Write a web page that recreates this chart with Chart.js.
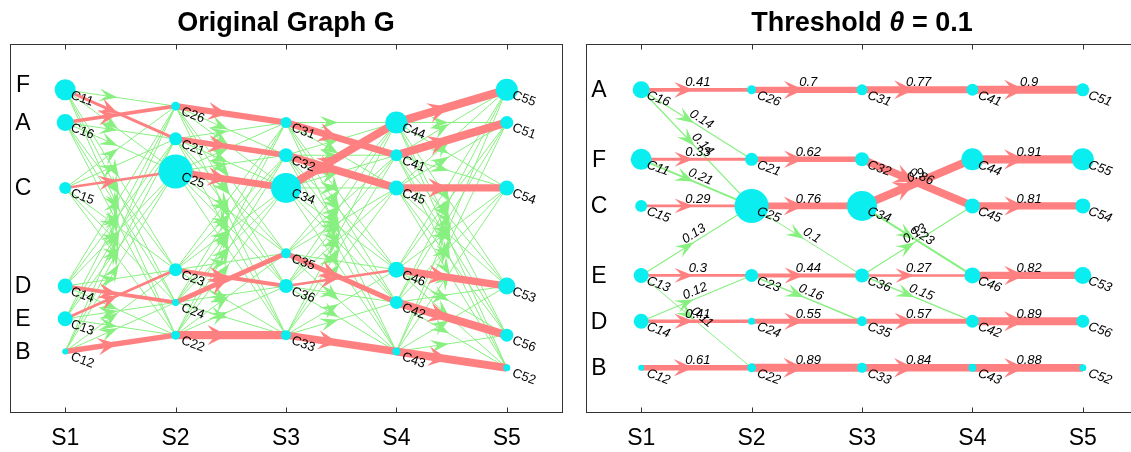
<!DOCTYPE html>
<html>
<head>
<meta charset="utf-8">
<script src="https://cdn.jsdelivr.net/npm/chart.js@4"></script>
<style>
  html, body { margin: 0; padding: 0; background: #fff; overflow: hidden; width: 1131px; height: 452px; }
  canvas { position: absolute; top: 0; }
  #chart-g { left: 0; }
  #chart-t { left: 576px; }
</style>
</head>
<body>
<canvas id="chart-g" width="580" height="452"></canvas>
<canvas id="chart-t" width="580" height="452"></canvas>
<script>
// stages on the x axis
const stages = ['S1', 'S2', 'S3', 'S4', 'S5'];

// row letters of the original graph (placed at the S1 node levels)
const subjects = ['F', 'A', 'C', 'D', 'E', 'B'];
const subjectLevel = [-0.3, 2, 6, 12, 14, 16];

// rows of the thresholded graph
const rowNames = ['A', 'F', 'C', 'E', 'D', 'B'];
const rowLevel = [0, 4.25, 7.1, 11.35, 14.15, 17];

// nodes: id, vertical level in G, row in the threshold graph, size
const nodeIds = ['C11', 'C12', 'C13', 'C14', 'C15', 'C16',
                 'C21', 'C22', 'C23', 'C24', 'C25', 'C26',
                 'C31', 'C32', 'C33', 'C34', 'C35', 'C36',
                 'C41', 'C42', 'C43', 'C44', 'C45', 'C46',
                 'C51', 'C52', 'C53', 'C54', 'C55', 'C56'];
const nodeLevel = [0, 16, 14, 12, 6, 2,
                   3, 15, 11, 13, 5, 1,
                   2, 4, 15, 6, 10, 12,
                   4, 13, 16, 2, 6, 11,
                   2, 17, 12, 6, 0, 15];
const nodeRow = ['F', 'B', 'E', 'D', 'C', 'A',
                 'F', 'B', 'E', 'D', 'C', 'A',
                 'A', 'F', 'B', 'C', 'D', 'E',
                 'A', 'D', 'B', 'F', 'C', 'E',
                 'A', 'B', 'E', 'C', 'F', 'D'];
const nodeSize = [10.5, 3, 7.5, 7.5, 6, 8.5,
                  6.5, 4.5, 6.5, 3.5, 17, 4.5,
                  5.5, 7, 5, 15, 5, 7,
                  6, 6.5, 4, 11, 7.5, 8,
                  6.5, 3.5, 8.5, 7.5, 11, 6.5];

// strong edges (red)
const strongFrom = ['C16', 'C11', 'C15', 'C13', 'C14', 'C12',
                    'C26', 'C21', 'C25', 'C23', 'C24', 'C22',
                    'C31', 'C32', 'C34', 'C36', 'C35', 'C33',
                    'C41', 'C44', 'C45', 'C46', 'C42', 'C43'];
const strongTo = ['C26', 'C21', 'C25', 'C23', 'C24', 'C22',
                  'C31', 'C32', 'C34', 'C36', 'C35', 'C33',
                  'C41', 'C45', 'C44', 'C46', 'C42', 'C43',
                  'C51', 'C55', 'C54', 'C53', 'C56', 'C52'];
const strongW = [0.41, 0.33, 0.29, 0.3, 0.41, 0.61,
                 0.7, 0.62, 0.76, 0.44, 0.55, 0.89,
                 0.77, 0.86, 0.9, 0.27, 0.57, 0.84,
                 0.9, 0.91, 0.81, 0.82, 0.89, 0.88];

// weak edges that survive the threshold (green)
const weakFrom = ['C16', 'C16', 'C11', 'C13', 'C13', 'C14', 'C25', 'C23', 'C34', 'C36', 'C36'];
const weakTo = ['C21', 'C25', 'C25', 'C25', 'C22', 'C23', 'C36', 'C35', 'C46', 'C45', 'C42'];
const weakW = [0.14, 0.14, 0.21, 0.13, 0.11, 0.12, 0.1, 0.16, 0.23, 0.13, 0.15];

const FONT = '"Liberation Sans", Arial, Helvetica, sans-serif';
const CYAN = '#0aeef0';
const RED = '#ff8080';
const GREEN = '#88f080';
const AXIS = '#333333';

function pos(id, panel) {
    const i = nodeIds.indexOf(id);
    const y = panel === 'G' ? nodeLevel[i] : rowLevel[rowNames.indexOf(nodeRow[i])];
    return { x: Number(id[1]), y: y };
}

function edgeDataset(from, to, w, panel, strong) {
    return {
        data: [pos(from, panel), pos(to, panel)],
        showLine: true,
        borderColor: strong ? RED : GREEN,
        backgroundColor: strong ? RED : GREEN,
        borderWidth: w == null ? 1 : Math.max(1, w * 9),
        pointRadius: 0,
        arrow: true,
        edgeLabel: panel === 'T' ? String(w) : null
    };
}

function buildDatasets(panel) {
    const nodes = {
        data: nodeIds.map(id => pos(id, panel)),
        pointRadius: nodeSize,
        pointBackgroundColor: CYAN,
        pointBorderWidth: 0,
        nodes: true
    };
    const red = strongFrom.map((f, i) => edgeDataset(f, strongTo[i], strongW[i], panel, true));
    let green = [];
    if (panel === 'G') {
        // original graph: every pair between neighbouring stages
        for (let s = 1; s < 5; s++) {
            const a = nodeIds.filter(id => Number(id[1]) === s);
            const b = nodeIds.filter(id => Number(id[1]) === s + 1);
            a.forEach(f => b.forEach(t => {
                const strong = strongFrom.some((sf, k) => sf === f && strongTo[k] === t);
                if (!strong) green.push(edgeDataset(f, t, null, panel, false));
            }));
        }
    } else {
        green = weakFrom.map((f, i) => edgeDataset(f, weakTo[i], weakW[i], panel, false));
    }
    // first dataset is drawn on top
    return [nodes].concat(red, green);
}

function drawArrow(ctx, x0, y0, x1, y1, lw, color) {
    const a = Math.atan2(y1 - y0, x1 - x0);
    const len = Math.hypot(x1 - x0, y1 - y0);
    const L = 18 + 0.3 * lw, W = 12 + 1.0 * lw;
    const tip = len / 2 - 3;
    ctx.save();
    ctx.translate(x0, y0);
    ctx.rotate(a);
    ctx.beginPath();
    ctx.moveTo(tip, 0);
    ctx.lineTo(tip - L, -W / 2);
    ctx.lineTo(tip - L * 0.6, 0);
    ctx.lineTo(tip - L, W / 2);
    ctx.closePath();
    ctx.fillStyle = color;
    ctx.fill();
    ctx.restore();
}

const graphPlugin = {
    id: 'graph',
    afterDatasetDraw(chart, args) {
        const ds = chart.data.datasets[args.index];
        if (!ds.arrow) return;
        const p = args.meta.data;
        drawArrow(chart.ctx, p[0].x, p[0].y, p[1].x, p[1].y, ds.borderWidth, ds.borderColor);
    },
    afterDatasetsDraw(chart) {
        const ctx = chart.ctx;
        const panel = chart.options.plugins.graph.panel;
        const italic = panel === 'T' ? 'italic ' : '';
        ctx.save();
        ctx.fillStyle = '#000';
        // edge weights
        ctx.font = 'italic 13px ' + FONT;
        ctx.textAlign = 'center';
        ctx.textBaseline = 'middle';
        chart.data.datasets.forEach((ds, i) => {
            if (!ds.edgeLabel) return;
            const p = chart.getDatasetMeta(i).data;
            const a = Math.atan2(p[1].y - p[0].y, p[1].x - p[0].x);
            const mx = (p[0].x + p[1].x) / 2 + Math.cos(a) * 1.5 + Math.sin(a) * 7;
            const my = (p[0].y + p[1].y) / 2 + Math.sin(a) * 1.5 - Math.cos(a) * 7;
            ctx.save();
            ctx.translate(mx, my);
            ctx.rotate(a);
            ctx.fillText(ds.edgeLabel, 0, 0);
            ctx.restore();
        });
        // node names
        ctx.font = italic + '13px ' + FONT;
        ctx.textAlign = 'left';
        const pts = chart.getDatasetMeta(0).data;
        nodeIds.forEach((id, i) => {
            ctx.save();
            ctx.translate(pts[i].x + 6, pts[i].y + 5);
            ctx.rotate(20 * Math.PI / 180);
            ctx.fillText(id, 0, 0);
            ctx.restore();
        });
        ctx.restore();
    },
    afterDraw(chart) {
        const ctx = chart.ctx;
        const area = chart.chartArea;
        const xs = chart.scales.x, ys = chart.scales.y;
        const opts = chart.options.plugins.graph;
        ctx.save();
        // box with inward ticks
        ctx.strokeStyle = AXIS;
        ctx.lineWidth = 1;
        const l = Math.round(area.left) + 0.5, t = Math.round(area.top) + 0.5;
        const r = Math.round(area.right) + 0.5, b = Math.round(area.bottom) + 0.5;
        ctx.strokeRect(l, t, r - l, b - t);
        ctx.beginPath();
        stages.forEach((s, i) => {
            const x = Math.round(xs.getPixelForValue(i + 1)) + 0.5;
            ctx.moveTo(x, t); ctx.lineTo(x, t + 5);
            ctx.moveTo(x, b); ctx.lineTo(x, b - 5);
        });
        ctx.stroke();
        // row letters
        ctx.fillStyle = '#000';
        ctx.font = '23px ' + FONT;
        ctx.textAlign = 'center';
        ctx.textBaseline = 'middle';
        opts.rows.forEach((name, i) => {
            ctx.fillText(name, area.left + 13, ys.getPixelForValue(opts.rowLevels[i]) + 1);
        });
        // title, with optional italic parts
        const parts = opts.title;
        const fontOf = p => (p.italic ? 'italic ' : '') + 'bold 27px ' + FONT;
        let total = 0;
        parts.forEach(p => { ctx.font = fontOf(p); total += ctx.measureText(p.text).width; });
        let x = (area.left + area.right) / 2 - total / 2;
        ctx.textAlign = 'left';
        parts.forEach(p => {
            ctx.font = fontOf(p);
            ctx.fillText(p.text, x, 24);
            x += ctx.measureText(p.text).width;
        });
        ctx.restore();
    }
};

function makeChart(canvasId, panel, title, rows, rowLevels) {
    const ctx = document.getElementById(canvasId).getContext('2d');
    return new Chart(ctx, {
        type: 'scatter',
        data: { datasets: buildDatasets(panel) },
        options: {
            responsive: false,
            animation: false,
            events: [],
            layout: { autoPadding: false, padding: { left: 10, right: 18, top: 44, bottom: 0 } },
            plugins: {
                legend: { display: false },
                tooltip: { enabled: false },
                graph: { panel: panel, title: title, rows: rows, rowLevels: rowLevels }
            },
            scales: {
                x: {
                    type: 'linear',
                    min: 0.5,
                    max: 5.5,
                    grid: { display: false, drawTicks: false },
                    border: { display: false },
                    afterBuildTicks: s => { s.ticks = stages.map((_, i) => ({ value: i + 1 })); },
                    afterFit: s => { s.height = 40; },
                    ticks: {
                        callback: v => stages[v - 1],
                        font: { family: FONT, size: 23 },
                        color: '#000',
                        padding: 13,
                        maxRotation: 0,
                        autoSkip: false
                    }
                },
                y: { display: false, reverse: true, min: -2.8, max: 19.7 }
            }
        },
        plugins: [graphPlugin]
    });
}

makeChart('chart-g', 'G', [{ text: 'Original Graph G' }], subjects, subjectLevel);
makeChart('chart-t', 'T', [{ text: 'Threshold ' }, { text: 'θ', italic: true }, { text: ' = 0.1' }], rowNames, rowLevel);
</script>
</body>
</html>
